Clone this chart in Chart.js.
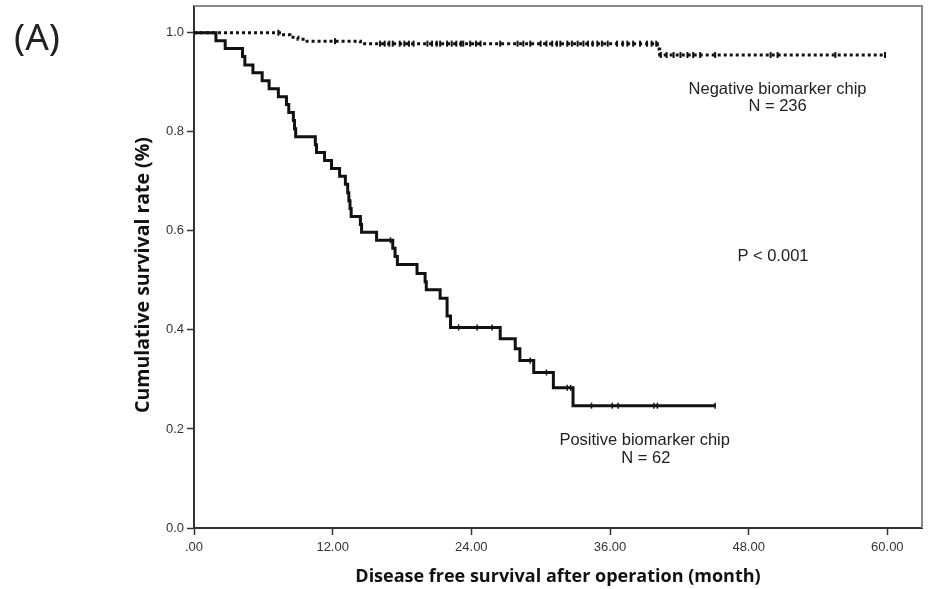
<!DOCTYPE html>
<html>
<head>
<meta charset="utf-8">
<script src="https://cdn.jsdelivr.net/npm/chart.js@4.4.1/dist/chart.umd.min.js"></script>
<style>
    html, body { margin: 0; padding: 0; background: #fff; }
    #wrap { width: 935px; height: 589px; }
</style>
</head>
<body>
<div id="wrap"><canvas id="kmChart" width="935" height="589"></canvas></div>
<script>
// Positive biomarker chip (N = 62): step times (month) and survival after each step
const posTimes = [0, 1.9, 2.7, 4.2, 4.4, 5.1, 5.9, 6.5, 7.3, 8.0, 8.2, 8.6, 8.7, 8.8,
    10.5, 10.6, 11.3, 11.9, 12.6, 13.1, 13.3, 13.4, 13.5, 13.6, 14.4, 14.5, 15.8,
    17.2, 17.4, 17.6, 19.3, 20.0, 20.1, 21.3, 21.9, 22.2, 26.5, 27.8, 28.2, 29.4,
    31.1, 32.8, 45.1];
const posSurv = [1.0, 0.984, 0.968, 0.952, 0.935, 0.919, 0.903, 0.887, 0.871, 0.855, 0.839, 0.823, 0.806, 0.790,
    0.774, 0.758, 0.742, 0.726, 0.710, 0.694, 0.677, 0.661, 0.645, 0.629, 0.613, 0.597, 0.581,
    0.565, 0.548, 0.532, 0.514, 0.497, 0.481, 0.464, 0.428, 0.405, 0.382, 0.362, 0.338, 0.314,
    0.283, 0.247, 0.247];
const posCensored = [17.0, 22.9, 24.5, 25.8, 29.1, 30.5, 32.3, 32.6, 34.4, 36.2, 36.7, 39.8, 40.1, 45.1];

// Negative biomarker chip (N = 236)
const negTimes = [0, 7.6, 8.3, 9.0, 9.6, 14.4, 40.1, 40.3, 59.8];
const negSurv = [1.0, 0.996, 0.991, 0.987, 0.983, 0.978, 0.967, 0.955, 0.955];
const negCensored = [7.3, 12.2, 16.1, 16.5, 16.9, 17.2, 17.8, 18.2, 18.6, 19.0,
    20.2, 20.6, 21.0, 21.3, 21.9, 22.3, 22.7, 23.1, 23.3, 23.9, 24.4, 24.8, 26.5,
    28.0, 28.5, 29.1, 30.0, 30.5, 31.0, 31.4, 31.7, 32.3, 32.7, 33.2, 33.7, 34.1,
    34.5, 34.9, 35.3, 35.8, 36.6, 37.1, 37.5, 38.0, 38.6, 39.2, 39.6, 40.0,
    40.4, 40.9, 41.5, 42.1, 42.7, 43.2, 43.8, 45.1, 49.9, 50.5, 55.5, 59.8];

const xTickValues = [0, 12, 24, 36, 48, 60];
const xTickLabels = ['.00', '12.00', '24.00', '36.00', '48.00', '60.00'];
const yTickValues = [0, 0.2, 0.4, 0.6, 0.8, 1.0];
const yTickLabels = ['0.0', '0.2', '0.4', '0.6', '0.8', '1.0'];

function survivalAt(times, surv, t) {
    let s = surv[0];
    for (let i = 0; i < times.length; i++) {
        if (times[i] <= t) s = surv[i];
    }
    return s;
}

function stepPoints(times, surv) {
    return times.map((t, i) => ({ x: t, y: surv[i] }));
}

function censorPoints(censored, times, surv) {
    return censored.map(t => ({ x: t, y: survivalAt(times, surv, t) }));
}

// text drawn inside the plot, placed in data units
const notes = [
    { text: 'Negative biomarker chip', x: 50.5, y: 0.885 },
    { text: 'N = 236', x: 50.5, y: 0.851 },
    { text: 'P < 0.001', x: 50.1, y: 0.549 },
    { text: 'Positive biomarker chip', x: 39.0, y: 0.177 },
    { text: 'N = 62', x: 39.1, y: 0.141 }
];

const extrasPlugin = {
    id: 'extras',
    afterDraw(chart) {
        const ctx = chart.ctx;
        const area = chart.chartArea;
        const xs = chart.scales.x;
        const ys = chart.scales.y;
        ctx.save();
        // gray frame on top and right
        ctx.strokeStyle = '#8a8a8a';
        ctx.lineWidth = 2;
        ctx.beginPath();
        ctx.moveTo(area.left, area.top);
        ctx.lineTo(area.right, area.top);
        ctx.lineTo(area.right, area.bottom);
        ctx.stroke();

        ctx.fillStyle = '#222';
        ctx.textAlign = 'center';
        ctx.textBaseline = 'middle';
        ctx.font = '16.5px "Liberation Sans", Arial, sans-serif';
        notes.forEach(n => {
            ctx.fillText(n.text, xs.getPixelForValue(n.x), ys.getPixelForValue(n.y));
        });

        ctx.font = '37px "Noto Sans", sans-serif';
        ctx.fillText('(A)', 37, 39);

        // y axis title
        ctx.fillStyle = '#111';
        ctx.font = 'bold 19.5px "Open Sans", sans-serif';
        ctx.translate(143, 275);
        ctx.rotate(-Math.PI / 2);
        ctx.fillText('Cumulative survival rate (%)', 0, 0);
        ctx.restore();
    }
};

const ctx = document.getElementById('kmChart').getContext('2d');
new Chart(ctx, {
    type: 'line',
    data: {
        datasets: [
            {
                data: stepPoints(posTimes, posSurv),
                stepped: 'before',
                borderColor: '#111',
                borderWidth: 3,
                pointRadius: 0,
                fill: false
            },
            {
                data: censorPoints(posCensored, posTimes, posSurv),
                showLine: false,
                pointStyle: 'line',
                rotation: 90,
                pointRadius: 3,
                borderColor: '#111',
                borderWidth: 1.5
            },
            {
                data: stepPoints(negTimes, negSurv),
                stepped: 'before',
                borderColor: '#111',
                borderWidth: 3,
                borderDash: [3, 3],
                pointRadius: 0,
                fill: false
            },
            {
                data: censorPoints(negCensored, negTimes, negSurv),
                showLine: false,
                pointStyle: 'line',
                rotation: 90,
                pointRadius: 3,
                borderColor: '#111',
                borderWidth: 2
            }
        ]
    },
    options: {
        responsive: false,
        animation: false,
        layout: { padding: { top: 4, right: 13, left: 0, bottom: 0 } },
        plugins: {
            legend: { display: false },
            tooltip: { enabled: false }
        },
        scales: {
            x: {
                type: 'linear',
                min: 0,
                max: 63,
                afterBuildTicks: s => { s.ticks = xTickValues.map(v => ({ value: v })); },
                afterFit: s => { s.height = 61; s.paddingLeft = 0; s.paddingRight = 0; },
                ticks: {
                    color: '#333',
                    padding: 5,
                    maxRotation: 0,
                    font: { family: '"Liberation Sans", Arial, sans-serif', size: 13 },
                    callback: (v) => xTickLabels[xTickValues.indexOf(v)]
                },
                grid: { drawOnChartArea: false, drawTicks: true, tickLength: 7, tickColor: '#333', tickWidth: 1.5 },
                border: { display: true, color: '#333', width: 2 },
                title: {
                    display: true,
                    text: 'Disease free survival after operation (month)',
                    color: '#111',
                    font: { family: '"Open Sans", sans-serif', size: 18, weight: 'bold' },
                    padding: { top: 0, bottom: 1 }
                }
            },
            y: {
                min: 0,
                max: 1.054,
                afterBuildTicks: s => { s.ticks = yTickValues.map(v => ({ value: v })); },
                afterFit: s => { s.width = 194; s.paddingTop = 0; s.paddingBottom = 0; },
                ticks: {
                    color: '#333',
                    padding: 3,
                    font: { family: '"Liberation Sans", Arial, sans-serif', size: 13 },
                    callback: (v) => yTickLabels[yTickValues.indexOf(v)]
                },
                grid: { drawOnChartArea: false, drawTicks: true, tickLength: 7, tickColor: '#333', tickWidth: 1.5 },
                border: { display: true, color: '#333', width: 2 }
            }
        }
    },
    plugins: [extrasPlugin]
});
</script>
</body>
</html>
